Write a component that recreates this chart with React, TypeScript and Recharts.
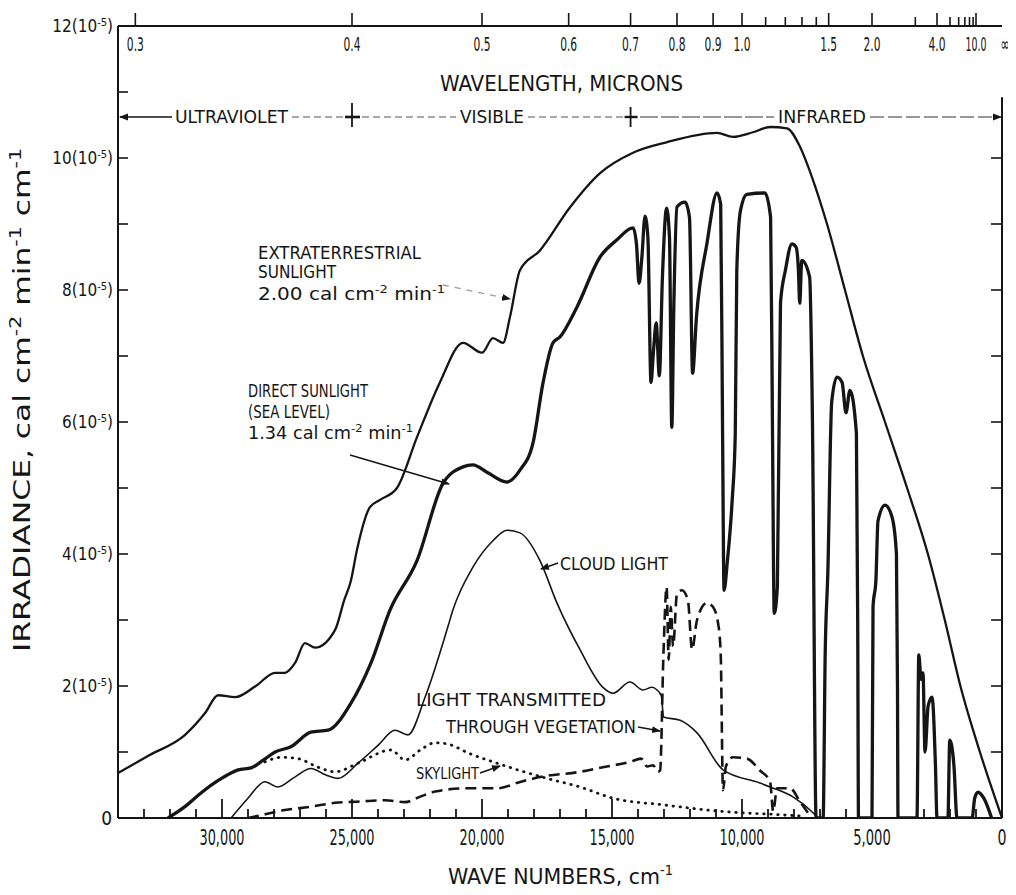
import React from "react";
import { ComposedChart, Line, XAxis, YAxis, ReferenceLine } from "recharts";

const FONT = "'Liberation Sans Narrow', 'DejaVu Sans Condensed', Roboto, 'Liberation Sans', sans-serif";
const INK = "#151515";

// [wave number cm^-1, irradiance in 10^-5 cal cm^-2 min^-1 cm^-1]
const extraterrestrial = [
  [34000, 0.68], [32800, 0.95], [31420, 1.26], [30650, 1.59], [30150, 1.86], [29500, 1.83],
  [28700, 2.0], [27960, 2.2], [27580, 2.2], [27190, 2.35], [26810, 2.65], [26420, 2.58],
  [25650, 2.85], [25300, 3.3], [25040, 3.6], [24810, 4.06], [24310, 4.71], [23920, 4.82],
  [23270, 5.0], [22500, 5.77], [21620, 6.6], [20730, 7.2], [20000, 7.05], [19580, 7.27],
  [19190, 7.2], [18920, 7.6], [18540, 8.3], [17770, 8.6], [16620, 9.25], [15460, 9.77],
  [14190, 10.08], [12880, 10.24], [10960, 10.38], [10350, 10.32], [9580, 10.39], [8920, 10.47],
  [8270, 10.45], [7770, 10.17], [7300, 9.7], [6730, 9.0], [6040, 8.0], [5350, 7.0],
  [4500, 6.0], [3650, 5.0], [2850, 4.0], [2200, 3.0], [1600, 2.0], [850, 1.0], [0, 0],
];

const directSunlight = [
  [32080, 0], [31400, 0.18], [30810, 0.38], [30100, 0.58], [29380, 0.73], [28880, 0.76],
  [28400, 0.88], [27960, 1.0], [27350, 1.08], [26580, 1.3], [25920, 1.33], [25040, 1.74],
  [24270, 2.35], [23540, 3.15], [22500, 3.9], [21500, 5.07], [20730, 5.32], [20350, 5.35],
  [19810, 5.24], [19040, 5.09], [18540, 5.27], [18040, 5.68], [17650, 6.6], [17270, 7.2],
  [17000, 7.29], [16350, 7.74], [15460, 8.5], [14810, 8.76], [14190, 8.94], [14060, 8.7],
  [13960, 8.1], [13850, 8.5], [13730, 9.12], [13620, 8.8], [13500, 6.6], [13400, 7.1],
  [13300, 7.5], [13180, 6.7], [13060, 8.2], [12900, 9.24], [12790, 8.8], [12700, 5.92],
  [12620, 7.8], [12500, 9.26], [12190, 9.33], [12020, 9.1], [11900, 6.74], [11750, 7.6],
  [11350, 8.7], [10960, 9.47], [10820, 9.3], [10750, 6.0], [10690, 3.45], [10560, 3.9],
  [10380, 4.8], [10260, 5.8], [10200, 8.3], [10060, 9.2], [9810, 9.45], [9120, 9.47],
  [8900, 9.1], [8830, 6.0], [8760, 3.1], [8640, 3.5], [8520, 7.8], [8330, 8.3],
  [8080, 8.7], [7920, 8.65], [7830, 8.3], [7780, 7.8], [7700, 8.45], [7400, 8.2],
  [7290, 6.0], [7150, 0], [6880, 0], [6800, 2.5], [6700, 3.7], [6550, 6.3],
  [6350, 6.68], [6150, 6.6], [6000, 6.14], [5850, 6.48], [5600, 5.83], [5550, 3.0],
  [5520, 0], [5000, 0], [4960, 3.2], [4850, 3.6], [4770, 4.5], [4500, 4.74],
  [4230, 4.56], [4060, 4.0], [4020, 2.0], [4000, 0], [3270, 0], [3200, 2.47],
  [3110, 2.1], [3040, 2.2], [2960, 1.0], [2840, 1.7], [2690, 1.83], [2560, 0.8],
  [2500, 0], [2080, 0], [2010, 1.18], [1850, 0.8], [1730, 0], [1150, 0],
  [1050, 0.3], [920, 0.39], [700, 0.3], [400, 0],
];

const cloudLight = [
  [29650, 0], [29000, 0.3], [28350, 0.55], [27850, 0.47], [27200, 0.62], [26580, 0.75],
  [26000, 0.65], [25540, 0.6], [24770, 0.83], [24000, 1.1], [23350, 1.33], [22850, 1.26],
  [22190, 1.83], [21310, 2.9], [21120, 3.15], [20350, 3.8], [19580, 4.2], [19040, 4.36],
  [18540, 4.32], [17770, 3.9], [17120, 3.26], [16230, 2.55], [15350, 1.98],
  [14960, 1.89], [14310, 2.06], [13810, 1.94], [13460, 1.98], [13270, 1.94], [13100, 1.85],
  [13020, 1.53], [12380, 1.48], [11730, 1.29], [10730, 0.73], [9310, 0.53], [8920, 0.47],
  [8040, 0.32], [7270, 0.08], [7080, 0],
];

const vegetation = [
  [29000, 0], [28300, 0.06], [27580, 0.12], [26600, 0.17], [25650, 0.23], [24700, 0.25],
  [23730, 0.27], [22960, 0.24], [22400, 0.32], [21810, 0.4], [20600, 0.45], [19420, 0.45],
  [18500, 0.55], [17770, 0.62], [16230, 0.7], [15200, 0.78], [14310, 0.85], [13880, 0.9],
  [13650, 0.78], [13420, 0.8], [13230, 0.7], [13150, 0.72], [13020, 2.5], [12900, 3.5],
  [12820, 2.4], [12740, 3.2], [12650, 2.6], [12500, 3.4], [12310, 3.45], [12080, 3.3],
  [11920, 2.55], [11730, 3.0], [11350, 3.26], [11120, 3.2], [10920, 2.95], [10820, 2.5],
  [10730, 0.42], [10620, 0.78], [10350, 0.92], [9810, 0.9], [9310, 0.72], [8920, 0.55],
  [8800, 0.1], [8650, 0.45], [8150, 0.45], [7770, 0.25], [7380, 0.03],
];

const skylight = [
  [28350, 0.85], [27700, 0.92], [27080, 0.9], [26310, 0.77], [25650, 0.7], [24770, 0.83],
  [23500, 1.03], [22960, 0.88], [22300, 1.05], [21810, 1.14], [21310, 1.12], [20500, 0.98],
  [19420, 0.83], [17500, 0.6], [16230, 0.47], [14960, 0.3], [13040, 0.2], [10460, 0.09],
  [8540, 0.05], [7770, 0.03],
];

const waveTicks = [
  0, 1000, 2000, 3000, 4000, 5000, 6000, 7000, 8000, 9000, 10000, 11000, 12000, 13000, 14000, 15000, 16000,
  17000, 18000, 19000, 20000, 21000, 22000, 23000, 24000, 25000, 26000, 27000, 28000, 29000, 30000, 31000,
  32000, 33000,
];
const irradianceTicks = [0, 1, 2, 3, 4, 5, 6, 7, 8, 9, 10, 11, 12];
const rightTicks = [1, 2, 3, 4, 5, 6, 7, 8, 9, 10];
const wavelengthTicks = [0.3, 0.4, 0.5, 0.6, 0.7, 0.8, 0.9, 1.0, 1.1, 1.2, 1.3, 1.4, 1.5, 2.0, 3.0, 4.0, 5, 6, 7, 8, 9, 10, Infinity];
const wavelengthLabelled = [0.3, 0.4, 0.5, 0.6, 0.7, 0.8, 0.9, 1.0, 1.5, 2.0, 4.0, 10, Infinity];

const toWave = (um: number) => (um === Infinity ? 0 : 10000 / um);
const toRows = (pts: number[][]) => pts.map(([w, v]) => ({ w, v }));

// page geometry of the plot, used only for overlay annotations
const PLOT_LEFT = 118;
const PLOT_W = 884;
const pagePx = (w: number) => PLOT_LEFT + ((34000 - w) / 34000) * PLOT_W;

function BottomTick(props: any) {
  const { x, y, payload } = props;
  const value = payload.value;
  const major = value % 5000 === 0;
  const label = value.toLocaleString("en-US");
  return (
    <g>
      {value !== 0 && <line x1={x} x2={x} y1={y} y2={y - (major ? 19 : 9)} stroke={INK} strokeWidth={1.8} />}
      {major && (
        <text x={x} y={y + 27} textAnchor="middle" fontFamily={FONT} fontSize={21} fill={INK}
          textLength={label.length === 1 ? 9 : label.length * 7.5} lengthAdjust="spacingAndGlyphs">
          {label}
        </text>
      )}
    </g>
  );
}

function TopTick(props: any) {
  const { x, y, payload } = props;
  const um = wavelengthTicks.find((l) => Math.abs(toWave(l) - payload.value) < 0.01);
  if (um === undefined) return <g />;
  const labelled = wavelengthLabelled.includes(um);
  const text = um === Infinity ? "\u221e" : um.toFixed(1);
  const width = um === Infinity ? 9 : text.length === 4 ? 21 : 17;
  return (
    <g>
      {um !== Infinity && <line x1={x} x2={x} y1={y} y2={y - (labelled ? 13 : 9)} stroke={INK} strokeWidth={1.6} />}
      {labelled && (
        <text x={um === Infinity ? x + 3 : x} y={y + 25} textAnchor="middle" fontFamily={FONT} fontSize={20} fill={INK}
          textLength={width} lengthAdjust="spacingAndGlyphs">
          {text}
        </text>
      )}
    </g>
  );
}

function LeftTick(props: any) {
  const { x, y, payload } = props;
  const v = payload.value;
  return (
    <g>
      {v !== 0 && v !== 12 && <line x1={x} x2={x + 10} y1={y} y2={y} stroke={INK} strokeWidth={1.6} />}
      {v === 0 && (
        <text x={x - 6} y={y + 7} textAnchor="end" fontFamily={FONT} fontSize={19} fill={INK}>0</text>
      )}
      {v % 2 === 0 && v !== 0 && (
        <text x={x - 5} y={y + 6} textAnchor="end" fontFamily={FONT} fontSize={17} fill={INK}>
          {v}(10<tspan fontSize={11} dy={-6}>-5</tspan><tspan dy={6}>)</tspan>
        </text>
      )}
    </g>
  );
}

function RightTick(props: any) {
  const { x, y } = props;
  return <line x1={x} x2={x - 11} y1={y} y2={y} stroke={INK} strokeWidth={1.6} />;
}

function Lbl({ x, cy, w, size = 17, children }: any) {
  return (
    <text x={x} y={cy + size * 0.36} fontSize={size} fontFamily={FONT} fill={INK}
      textLength={w} lengthAdjust="spacingAndGlyphs">
      {children}
    </text>
  );
}

function Units({ size, lead }: { size: number; lead: string }) {
  const s = size * 0.65;
  const d = size * 0.4;
  return (
    <>
      {lead} cm<tspan fontSize={s} dy={-d}>-2</tspan>
      <tspan dy={d}> min</tspan>
      <tspan fontSize={s} dy={-d}>-1</tspan>
    </>
  );
}

function Annotations() {
  const b04 = pagePx(toWave(0.4));
  const b07 = pagePx(toWave(0.7));
  const rowY = 117;
  return (
    <svg width={1008} height={887} style={{ position: "absolute", left: 0, top: 0, pointerEvents: "none" }}>
      <defs>
        <marker id="ah" markerWidth="9" markerHeight="8" refX="8" refY="4" orient="auto" markerUnits="userSpaceOnUse">
          <path d="M0,0.5 L9,4 L0,7.5 z" fill={INK} />
        </marker>
      </defs>
      <g transform="translate(-8,-8)">
        {/* wavelength title and spectral regions */}
        <Lbl x={440} cy={83} w={243} size={21}>WAVELENGTH, MICRONS</Lbl>
        <line x1={172} y1={rowY} x2={120} y2={rowY} stroke={INK} strokeWidth={1.3} markerEnd="url(#ah)" />
        <Lbl x={175} cy={rowY} w={113} size={17}>ULTRAVIOLET</Lbl>
        <line x1={292} y1={rowY} x2={346} y2={rowY} stroke="#555" strokeWidth={1.2} strokeDasharray="7 4" />
        <line x1={b04} y1={rowY - 14} x2={b04} y2={rowY + 10} stroke={INK} strokeWidth={1.8} />
        <line x1={b04 - 7} y1={rowY} x2={b04 + 8} y2={rowY} stroke={INK} strokeWidth={2.6} />
        <line x1={362} y1={rowY} x2={456} y2={rowY} stroke="#555" strokeWidth={1.2} strokeDasharray="7 4" />
        <Lbl x={460} cy={rowY} w={64} size={17}>VISIBLE</Lbl>
        <line x1={528} y1={rowY} x2={624} y2={rowY} stroke="#555" strokeWidth={1.2} strokeDasharray="7 4" />
        <line x1={b07} y1={rowY - 10} x2={b07} y2={rowY + 10} stroke={INK} strokeWidth={1.8} />
        <line x1={b07 - 6} y1={rowY} x2={b07 + 7} y2={rowY} stroke={INK} strokeWidth={2.4} />
        <line x1={640} y1={rowY} x2={774} y2={rowY} stroke="#333" strokeWidth={1.2} strokeDasharray="18 3" />
        <Lbl x={778} cy={rowY} w={88} size={17}>INFRARED</Lbl>
        <line x1={870} y1={rowY} x2={1001} y2={rowY} stroke="#333" strokeWidth={1.2} strokeDasharray="14 4"
          markerEnd="url(#ah)" />

        {/* curve labels */}
        <Lbl x={258} cy={253} w={163} size={17}>EXTRATERRESTRIAL</Lbl>
        <Lbl x={258} cy={272} w={78} size={17}>SUNLIGHT</Lbl>
        <Lbl x={258} cy={294} w={187} size={17}><Units size={17} lead="2.00 cal" /></Lbl>
        <line x1={443} y1={285} x2={510} y2={299} stroke="#9a9a9a" strokeWidth={1.3} strokeDasharray="6 6"
          markerEnd="url(#ah)" />

        <Lbl x={248} cy={391} w={120} size={17}>DIRECT SUNLIGHT</Lbl>
        <Lbl x={248} cy={412} w={82} size={17}>(SEA LEVEL)</Lbl>
        <Lbl x={248} cy={433} w={165} size={17}><Units size={17} lead="1.34 cal" /></Lbl>
        <line x1={350} y1={455} x2={449} y2={484} stroke={INK} strokeWidth={1.5} markerEnd="url(#ah)" />

        <line x1={558} y1={563} x2={541} y2={569} stroke={INK} strokeWidth={1.5} markerEnd="url(#ah)" />
        <Lbl x={560} cy={564} w={108} size={17}>CLOUD LIGHT</Lbl>

        <Lbl x={416} cy={700} w={190} size={17}>LIGHT TRANSMITTED</Lbl>
        <Lbl x={446} cy={727} w={190} size={17}>THROUGH VEGETATION</Lbl>
        <line x1={638} y1={727} x2={660} y2={731} stroke={INK} strokeWidth={1.5} markerEnd="url(#ah)" />

        <Lbl x={416} cy={773} w={63} size={16}>SKYLIGHT</Lbl>
        <line x1={480} y1={773} x2={500} y2={766} stroke={INK} strokeWidth={1.5} markerEnd="url(#ah)" />

        {/* axis titles */}
        <text x={0} y={0} transform="translate(30,400) rotate(-90)" textAnchor="middle" fontFamily={FONT}
          fontSize={23} fill={INK} textLength={504} lengthAdjust="spacingAndGlyphs">
          IRRADIANCE,  cal  cm<tspan fontSize={15} dy={-9}>-2</tspan>
          <tspan dy={9}>  min</tspan>
          <tspan fontSize={15} dy={-9}>-1</tspan>
          <tspan dy={9}>  cm</tspan>
          <tspan fontSize={15} dy={-9}>-1</tspan>
        </text>
        <text x={448} y={884} fontFamily={FONT} fontSize={22} fill={INK} textLength={225} lengthAdjust="spacingAndGlyphs">
          WAVE NUMBERS, cm<tspan fontSize={14} dy={-9}>-1</tspan>
        </text>
      </g>
    </svg>
  );
}

export default function App() {
  const topTicks = wavelengthTicks.map(toWave);
  return (
    <div style={{ position: "relative", width: 1008, height: 887, background: "#fff" }}>
      <ComposedChart width={1008} height={880} margin={{ top: 0, right: 0, bottom: 0, left: 0 }}>
        <XAxis xAxisId="top" orientation="top" type="number" dataKey="w" domain={[0, 34000]} reversed
          allowDataOverflow ticks={topTicks} interval={0} height={18} tickSize={0} tickMargin={0}
          tickLine={false} tick={TopTick} axisLine={{ stroke: INK, strokeWidth: 2 }} />
        <XAxis xAxisId="bottom" orientation="bottom" type="number" dataKey="w" domain={[0, 34000]} reversed
          allowDataOverflow ticks={waveTicks} interval={0} height={70} tickSize={0} tickMargin={0}
          tickLine={false} tick={BottomTick} axisLine={{ stroke: INK, strokeWidth: 2 }} />
        <YAxis yAxisId="left" type="number" domain={[0, 12]} ticks={irradianceTicks} interval={0} width={110}
          tickSize={0} tickMargin={0} tickLine={false} tick={LeftTick} axisLine={{ stroke: INK, strokeWidth: 2 }}
          allowDataOverflow />
        <YAxis yAxisId="right" orientation="right" type="number" domain={[0, 12]} ticks={rightTicks} interval={0}
          width={14} tickSize={0} tickMargin={0} tickLine={false} tick={RightTick} axisLine={false} allowDataOverflow />
        <ReferenceLine xAxisId="bottom" yAxisId="left" segment={[{ x: 0, y: 0 }, { x: 0, y: 10.92 }]}
          stroke={INK} strokeWidth={2} />
        <Line xAxisId="bottom" yAxisId="left" data={toRows(extraterrestrial)} dataKey="v" type="monotone"
          stroke={INK} strokeWidth={2.3} dot={false} activeDot={false} isAnimationActive={false} />
        <Line xAxisId="bottom" yAxisId="left" data={toRows(directSunlight)} dataKey="v" type="monotone"
          stroke={INK} strokeWidth={3.3} dot={false} activeDot={false} isAnimationActive={false} />
        <Line xAxisId="bottom" yAxisId="left" data={toRows(cloudLight)} dataKey="v" type="monotone"
          stroke={INK} strokeWidth={1.6} dot={false} activeDot={false} isAnimationActive={false} />
        <Line xAxisId="bottom" yAxisId="left" data={toRows(vegetation)} dataKey="v" type="monotone"
          stroke={INK} strokeWidth={2.6} strokeDasharray="11 6" dot={false} activeDot={false} isAnimationActive={false} />
        <Line xAxisId="bottom" yAxisId="left" data={toRows(skylight)} dataKey="v" type="monotone"
          stroke={INK} strokeWidth={2.8} strokeDasharray="0.5 6.5" strokeLinecap="round" dot={false}
          activeDot={false} isAnimationActive={false} />
      </ComposedChart>
      <Annotations />
    </div>
  );
}
